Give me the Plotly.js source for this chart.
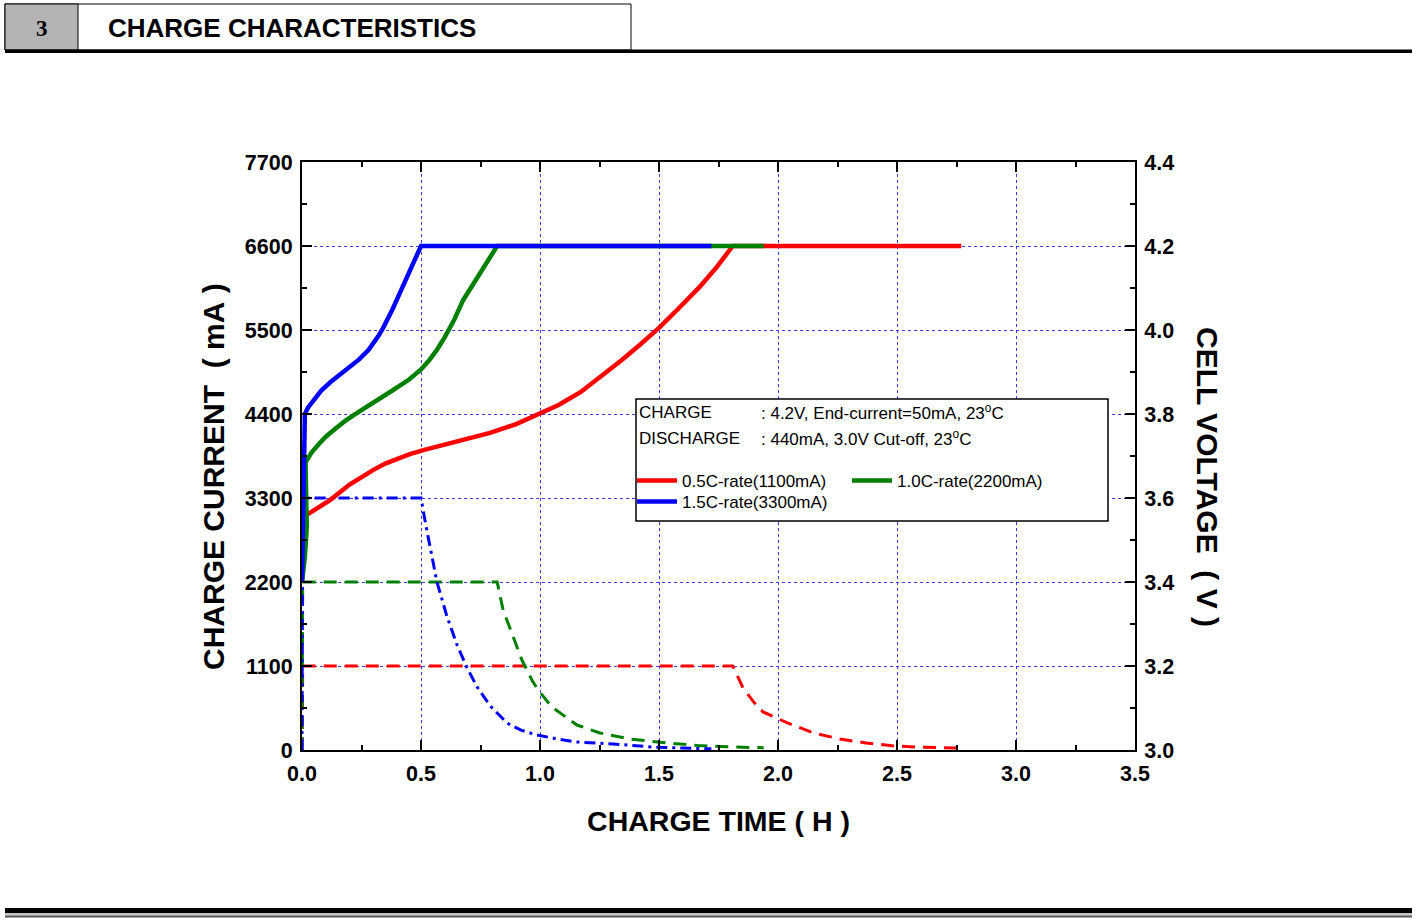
<!DOCTYPE html>
<html><head><meta charset="utf-8">
<script src="https://cdn.plot.ly/plotly-3.0.1.min.js"></script>
<style>html,body{margin:0;padding:0;background:#fff;overflow:hidden}#chart{width:1417px;height:922px}</style>
</head><body><div id="chart"></div>
<script>
// ---------- DATA ----------
// Cell voltage (V) vs charge time (h)
const v05_t = [0.02, 0.06, 0.118, 0.2, 0.25, 0.3, 0.35, 0.4, 0.45, 0.51, 0.65, 0.79, 0.9, 1.0, 1.08, 1.17, 1.25, 1.34, 1.42, 1.5, 1.58, 1.67, 1.74, 1.81, 2.0, 2.3, 2.6, 2.77];
const v05_v = [3.56, 3.575, 3.595, 3.632, 3.65, 3.667, 3.682, 3.694, 3.704, 3.714, 3.734, 3.755, 3.776, 3.8, 3.822, 3.852, 3.886, 3.927, 3.965, 4.005, 4.05, 4.102, 4.148, 4.2, 4.2, 4.2, 4.2, 4.2];
const v10_t = [0.0, 0.012, 0.02, 0.018, 0.012, 0.015, 0.02, 0.04, 0.07, 0.1, 0.14, 0.18, 0.23, 0.3, 0.38, 0.45, 0.5, 0.53, 0.566, 0.6, 0.64, 0.677, 0.71, 0.75, 0.79, 0.82, 1.2, 1.6, 1.94];
const v10_v = [3.40, 3.46, 3.53, 3.60, 3.66, 3.683, 3.69, 3.708, 3.728, 3.746, 3.765, 3.783, 3.802, 3.826, 3.856, 3.882, 3.906, 3.925, 3.952, 3.983, 4.025, 4.071, 4.1, 4.138, 4.174, 4.2, 4.2, 4.2, 4.2];
const v15_t = [0.0, 0.004, 0.008, 0.012, 0.025, 0.05, 0.08, 0.12, 0.16, 0.2, 0.24, 0.28, 0.3, 0.32, 0.34, 0.36, 0.38, 0.4, 0.42, 0.44, 0.46, 0.48, 0.5, 0.9, 1.3, 1.72];
const v15_v = [3.40, 3.55, 3.70, 3.80, 3.815, 3.835, 3.855, 3.876, 3.895, 3.912, 3.93, 3.953, 3.968, 3.985, 4.004, 4.025, 4.049, 4.074, 4.1, 4.125, 4.149, 4.174, 4.2, 4.2, 4.2, 4.2];

// Charge current (mA) vs charge time (h)
const i05_t = [0.0, 0.003, 0.5, 1.0, 1.5, 1.81, 1.853, 1.9, 1.937, 2.04, 2.15, 2.26, 2.37, 2.48, 2.58, 2.77];
const i05_i = [0, 1100, 1100, 1100, 1100, 1100, 812, 620, 498, 354, 223, 144, 92, 55, 39, 26];
const i10_t = [0.0, 0.003, 0.4, 0.82, 0.845, 0.882, 0.924, 0.966, 0.992, 1.05, 1.155, 1.252, 1.378, 1.533, 1.66, 1.8, 1.94];
const i10_i = [0, 2200, 2200, 2200, 1833, 1532, 1178, 917, 786, 563, 327, 223, 144, 92, 60, 40, 30];
const i15_t = [0.0, 0.003, 0.25, 0.5, 0.52, 0.545, 0.567, 0.609, 0.651, 0.693, 0.735, 0.79, 0.861, 0.92, 0.987, 1.08, 1.155, 1.307, 1.475, 1.6, 1.72];
const i15_i = [0, 3300, 3300, 3300, 2950, 2550, 2200, 1750, 1380, 1080, 830, 580, 354, 260, 196, 140, 105, 79, 39, 25, 15];

const xTicks = [0, 0.5, 1.0, 1.5, 2.0, 2.5, 3.0, 3.5];
const yTicks = [0, 1100, 2200, 3300, 4400, 5500, 6600, 7700];
const y2Ticks = [3.0, 3.2, 3.4, 3.6, 3.8, 4.0, 4.2, 4.4];

const seriesNames = ['0.5C-rate(1100mA)', '1.0C-rate(2200mA)', '1.5C-rate(3300mA)'];
const seriesColors = ['#ff0000', '#008000', '#0000ff'];

// ---------- LAYOUT HELPERS ----------
const W = 1417, H = 922, ML = 302, MR = 282, MT = 162, MB = 172;
const PW = W - ML - MR, PH = H - MT - MB;
const px2x = p => (p - ML) / PW;
const px2y = p => (H - MB - p) / PH;
const FONT = 'Arial, "Liberation Sans", sans-serif';
const NB = '\u00a0';

const traces = [
  {x: i05_t, y: i05_i, yaxis: 'y', mode: 'lines', showlegend: false, line: {color: seriesColors[0], width: 3, dash: '13px,8px'}, hoverinfo: 'skip'},
  {x: i10_t, y: i10_i, yaxis: 'y', mode: 'lines', showlegend: false, line: {color: seriesColors[1], width: 3, dash: '13px,8px'}, hoverinfo: 'skip'},
  {x: i15_t, y: i15_i, yaxis: 'y', mode: 'lines', showlegend: false, line: {color: seriesColors[2], width: 3, dash: '11px,5px,3px,5px'}, hoverinfo: 'skip'},
  {x: v05_t, y: v05_v, yaxis: 'y2', mode: 'lines', name: seriesNames[0], legend: 'legend', line: {color: seriesColors[0], width: 4.5}},
  {x: v10_t, y: v10_v, yaxis: 'y2', mode: 'lines', name: seriesNames[1], legend: 'legend', line: {color: seriesColors[1], width: 4.5}},
  {x: v15_t, y: v15_v, yaxis: 'y2', mode: 'lines', name: seriesNames[2], legend: 'legend2', line: {color: seriesColors[2], width: 4.5}}
];

const axisCommon = {
  ticks: 'inside', ticklen: 10, tickwidth: 2, tickcolor: '#000',
  showline: true, linewidth: 2, linecolor: '#000', zeroline: false,
  tickfont: {family: FONT, size: 21.5, color: '#000', weight: 'bold'},
  ticklabelstandoff: 3
};

const layout = {
  width: W, height: H,
  margin: {l: ML, r: MR, t: MT, b: MB, pad: 0},
  paper_bgcolor: '#fff', plot_bgcolor: '#fff',
  font: {family: FONT, color: '#000'},
  title: {text: '<b>CHARGE CHARACTERISTICS</b>', font: {family: FONT, size: 26, color: '#000'},
          x: 108 / W, xref: 'container', xanchor: 'left', y: 1 - 28 / H, yref: 'container', yanchor: 'middle'},
  xaxis: Object.assign({}, axisCommon, {
    range: [0, 3.5], tickmode: 'array', tickvals: xTicks, tickformat: '.1f', mirror: 'ticks',
    showgrid: true, gridcolor: '#3b3bff', griddash: 'dot', gridwidth: 1,
    minor: {ticks: 'inside', ticklen: 5, tickwidth: 2, tickcolor: '#000', dtick: 0.25, tick0: 0, showgrid: false},
    title: {text: '<b>CHARGE TIME ( H )</b>', font: {family: FONT, size: 28.5, color: '#000'}, standoff: 26}
  }),
  yaxis: Object.assign({}, axisCommon, {
    range: [0, 7700], tickmode: 'array', tickvals: yTicks, mirror: false,
    showgrid: true, gridcolor: '#3b3bff', griddash: 'dot', gridwidth: 1,
    minor: {ticks: 'inside', ticklen: 5, tickwidth: 2, tickcolor: '#000', dtick: 550, tick0: 0, showgrid: false}
  }),
  yaxis2: Object.assign({}, axisCommon, {
    overlaying: 'y', side: 'right', range: [3.0, 4.4], tickmode: 'array', tickvals: y2Ticks, tickformat: '.1f',
    showgrid: false,
    minor: {ticks: 'inside', ticklen: 5, tickwidth: 2, tickcolor: '#000', dtick: 0.1, tick0: 3.0, showgrid: false}
  }),
  legend: {x: px2x(632), y: px2y(463), xanchor: 'left', yanchor: 'top', orientation: 'h',
           bgcolor: 'rgba(0,0,0,0)', borderwidth: 0, font: {family: FONT, size: 17, color: '#000'},
           entrywidth: 160, entrywidthmode: 'pixels', itemwidth: 40, tracegroupgap: 0},
  legend2: {x: px2x(632), y: px2y(484), xanchor: 'left', yanchor: 'top', orientation: 'h',
           bgcolor: 'rgba(0,0,0,0)', borderwidth: 0, font: {family: FONT, size: 17, color: '#000'},
           itemwidth: 40, tracegroupgap: 0},
  shapes: [
    // header
    {type: 'rect', xref: 'paper', yref: 'paper', x0: px2x(5), x1: px2x(631), y0: px2y(50), y1: px2y(4), line: {color: '#000', width: 1}, fillcolor: '#fff', layer: 'above'},
    {type: 'rect', xref: 'paper', yref: 'paper', x0: px2x(5), x1: px2x(78), y0: px2y(50), y1: px2y(4), line: {color: '#000', width: 1}, fillcolor: '#b4b4b4', layer: 'above'},
    {type: 'rect', xref: 'paper', yref: 'paper', x0: px2x(5), x1: px2x(1412), y0: px2y(53), y1: px2y(49.5), line: {width: 0}, fillcolor: '#000', layer: 'above'},
    // footer
    {type: 'rect', xref: 'paper', yref: 'paper', x0: px2x(5), x1: px2x(1412), y0: px2y(913), y1: px2y(908), line: {width: 0}, fillcolor: '#000', layer: 'above'},
    {type: 'rect', xref: 'paper', yref: 'paper', x0: px2x(5), x1: px2x(1412), y0: px2y(915.5), y1: px2y(913), line: {width: 0}, fillcolor: '#c4c4c4', layer: 'above'},
    {type: 'rect', xref: 'paper', yref: 'paper', x0: px2x(5), x1: px2x(1412), y0: px2y(917.5), y1: px2y(915.5), line: {width: 0}, fillcolor: '#555', layer: 'above'},
    // legend box
    {type: 'rect', xref: 'paper', yref: 'paper', x0: px2x(636), x1: px2x(1108), y0: px2y(521), y1: px2y(399), line: {color: '#000', width: 1.5}, fillcolor: '#fff', layer: 'above'}
  ],
  annotations: [
    {text: '<b>3</b>', xref: 'paper', yref: 'paper', x: px2x(42), y: px2y(28), showarrow: false, xanchor: 'center', yanchor: 'middle',
     font: {family: '"Liberation Serif", "Times New Roman", serif', size: 23, color: '#000'}},
    {text: '<b>CHARGE CURRENT' + NB + NB + '(' + NB + 'mA' + NB + ')</b>', xref: 'paper', yref: 'paper', x: px2x(213), y: px2y(477), textangle: -90, showarrow: false,
     xanchor: 'center', yanchor: 'middle', font: {family: FONT, size: 30, color: '#000'}},
    {text: '<b>CELL VOLTAGE' + NB + NB + '(' + NB + 'V' + NB + ')</b>', xref: 'paper', yref: 'paper', x: px2x(1208), y: px2y(477), textangle: 90, showarrow: false,
     xanchor: 'center', yanchor: 'middle', font: {family: FONT, size: 30, color: '#000'}},
    {text: 'CHARGE', xref: 'paper', yref: 'paper', x: px2x(637), y: px2y(412), showarrow: false, xanchor: 'left', yanchor: 'middle', font: {family: FONT, size: 17, color: '#000'}},
    {text: ': 4.2V, End-current=50mA, 23<sup>o</sup>C', xref: 'paper', yref: 'paper', x: px2x(759), y: px2y(412), showarrow: false, xanchor: 'left', yanchor: 'middle', font: {family: FONT, size: 17, color: '#000'}},
    {text: 'DISCHARGE', xref: 'paper', yref: 'paper', x: px2x(637), y: px2y(438), showarrow: false, xanchor: 'left', yanchor: 'middle', font: {family: FONT, size: 17, color: '#000'}},
    {text: ': 440mA, 3.0V Cut-off, 23<sup>o</sup>C', xref: 'paper', yref: 'paper', x: px2x(759), y: px2y(438), showarrow: false, xanchor: 'left', yanchor: 'middle', font: {family: FONT, size: 17, color: '#000'}}
  ]
};

Plotly.newPlot('chart', traces, layout, {displayModeBar: false, staticPlot: true});
</script>
</body></html>
